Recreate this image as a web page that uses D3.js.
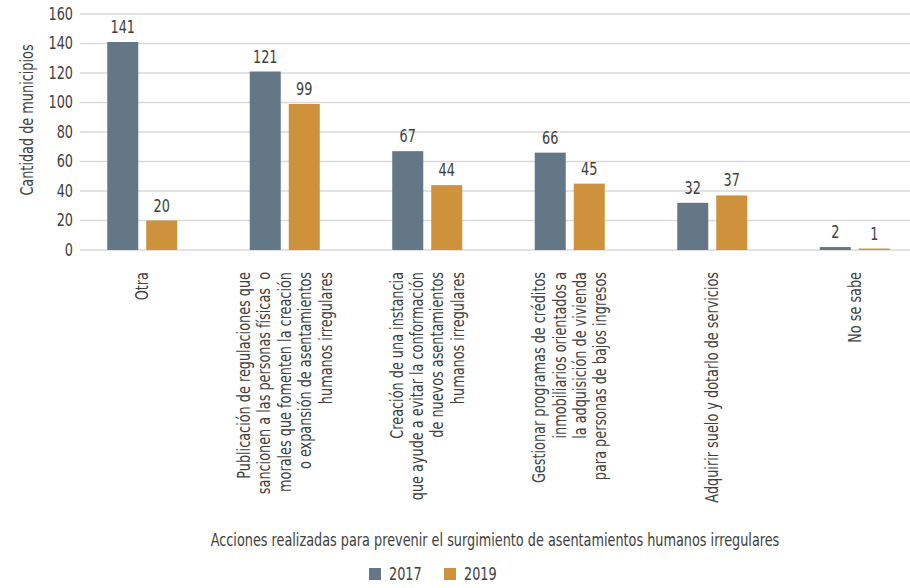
<!DOCTYPE html>
<html>
<head>
<meta charset="utf-8">
<script src="https://cdn.jsdelivr.net/npm/d3@7"></script>
<style>
  html, body { margin: 0; padding: 0; background: #fff; }
  svg { display: block; }
  text { font-family: "Liberation Sans Narrow", "DejaVu Sans Condensed", "Roboto", sans-serif; fill: #404040; }
</style>
</head>
<body>
<svg id="chart" width="910" height="588"></svg>
<script>
const categories = [
  "Otra",
  "Publicación de regulaciones que|sancionen a las personas físicas  o|morales que fomenten la creación|o expansión de asentamientos|humanos irregulares",
  "Creación de una instancia|que ayude a evitar la conformación|de nuevos asentamientos|humanos irregulares",
  "Gestionar programas de créditos|inmobiliarios orientados a|la adquisición de vivienda|para personas de bajos ingresos",
  "Adquirir suelo y dotarlo de servicios",
  "No se sabe"
];
const seriesNames = ["2017", "2019"];
const values2017 = [141, 121, 67, 66, 32, 2];
const values2019 = [20, 99, 44, 45, 37, 1];
const yTicks = [0, 20, 40, 60, 80, 100, 120, 140, 160];
const yTitle = "Cantidad de municipios";
const xTitle = "Acciones realizadas para prevenir el surgimiento de asentamientos humanos irregulares";

const colors = { "2017": "#647786", "2019": "#cf923c" };
const seriesValues = { "2017": values2017, "2019": values2019 };
const SX = 0.84; // horizontal condensing of text
const FS = "17px";

const svg = d3.select("#chart");

const y = d3.scaleLinear().domain([0, 160]).range([250, 14]);
const x = d3.scaleBand().domain(categories).range([71, 926]).paddingInner(0).paddingOuter(0);
const xs = d3.scaleBand().domain(seriesNames).range([-35, 35]).paddingInner(0.205).paddingOuter(0);

// gridlines
svg.append("g").selectAll("line").data(yTicks).join("line")
  .attr("x1", 80).attr("x2", 910)
  .attr("y1", d => y(d)).attr("y2", d => y(d))
  .attr("stroke", "#d9d9d9").attr("stroke-width", 1.5);

// y axis tick labels
const yAxis = d3.axisLeft(y).tickValues(yTicks).tickSize(0).tickPadding(0);
const gy = svg.append("g").attr("transform", "translate(73,0)").call(yAxis);
gy.select(".domain").remove();
gy.selectAll(".tick text")
  .style("font-size", FS).style("fill", "#404040").style("font-family", null)
  .attr("transform", `scale(${SX},1)`);

// y title
svg.append("text")
  .attr("transform", `translate(33,120) rotate(-90) scale(${SX},1)`)
  .attr("text-anchor", "middle")
  .style("font-size", FS)
  .text(yTitle);

// bars
const groups = svg.append("g").selectAll("g").data(categories).join("g")
  .attr("transform", d => `translate(${x(d) + x.bandwidth() / 2},0)`);

groups.each(function(cat, i) {
  const g = d3.select(this);
  seriesNames.forEach(s => {
    const v = seriesValues[s][i];
    g.append("rect")
      .attr("x", xs(s))
      .attr("width", xs.bandwidth())
      .attr("y", y(v))
      .attr("height", y(0) - y(v))
      .attr("fill", colors[s]);
    g.append("text")
      .attr("transform", `translate(${xs(s) + xs.bandwidth() / 2},${y(v) - 9}) scale(${SX},1)`)
      .attr("text-anchor", "middle")
      .style("font-size", FS)
      .text(v);
  });
  // category label
  const lines = cat.split("|");
  const lh = 20.5;
  const t = g.append("text")
    .attr("transform", `translate(0,272) rotate(-90) scale(${SX},1)`)
    .attr("text-anchor", "end")
    .style("font-size", FS);
  lines.forEach((ln, k) => {
    t.append("tspan")
      .attr("x", 0)
      .attr("y", (k - (lines.length - 1) / 2) * lh + 6)
      .attr("xml:space", "preserve")
      .text(ln);
  });
});

// x title
svg.append("text")
  .attr("transform", `translate(495,546) scale(${SX},1)`)
  .attr("text-anchor", "middle")
  .style("font-size", FS)
  .text(xTitle);

// legend
const legend = svg.append("g").selectAll("g").data(seriesNames).join("g")
  .attr("transform", (d, i) => `translate(${369 + i * 75},568)`);
legend.append("rect").attr("width", 12).attr("height", 12).attr("fill", d => colors[d]);
legend.append("text")
  .attr("transform", `translate(20,12) scale(${SX},1)`)
  .style("font-size", FS).text(d => d);
</script>
</body>
</html>
